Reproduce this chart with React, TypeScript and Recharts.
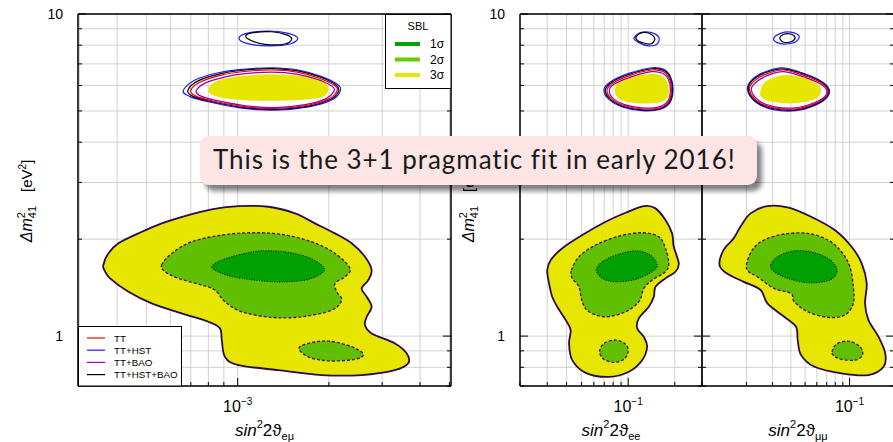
import React from 'react'
import { ScatterChart, Scatter, XAxis, YAxis, CartesianGrid } from 'recharts'

type Pt = [number, number]

// shared axis ticks
const yTicks = [0.7, 0.8, 0.9, 1, 2, 3, 4, 5, 6, 7, 8, 9, 10]
const yMajor = [1, 10]
const emuTicks = [3e-4, 4e-4, 5e-4, 6e-4, 7e-4, 8e-4, 9e-4, 1e-3, 2e-3, 3e-3, 4e-3, 5e-3]
const eeTicks = [0.02, 0.03, 0.04, 0.05, 0.06, 0.07, 0.08, 0.09, 0.1, 0.2, 0.3]
const mmTicks = [0.01, 0.02, 0.03, 0.04, 0.05, 0.06, 0.07, 0.08, 0.09, 0.1, 0.2]

// --- sin^2 2theta_emu panel ---
const emu3s: Pt[] = [[3.60e-4,1.662],[3.74e-4,1.806],[4.04e-4,1.941],[4.70e-4,2.084],[5.61e-4,2.239],[6.87e-4,2.376],[8.21e-4,2.475],[1.005e-3,2.533],[1.262e-3,2.521],[1.546e-3,2.405],[1.799e-3,2.239],[2.095e-3,2.084],[2.378e-3,1.941],[2.631e-3,1.764],[2.768e-3,1.603],[2.698e-3,1.492],[2.566e-3,1.406],[2.666e-3,1.325],[2.768e-3,1.233],[2.666e-3,1.148],[2.631e-3,1.082],[2.768e-3,1.019],[3.304e-3,0.949],[3.612e-3,0.884],[3.656e-3,0.823],[3.304e-3,0.784],[2.566e-3,0.757],[1.893e-3,0.757],[1.361e-3,0.784],[1.005e-3,0.813],[9.08e-4,0.862],[8.86e-4,0.972],[8.74e-4,1.057],[8.00e-4,1.108],[6.53e-4,1.176],[5.20e-4,1.263],[4.36e-4,1.373],[3.79e-4,1.511],[3.63e-4,1.603]]
const emu2s: Pt[] = [[5.61e-4,1.662],[6.06e-4,1.806],[7.05e-4,1.963],[8.86e-4,2.059],[1.112e-3,2.094],[1.397e-3,2.069],[1.755e-3,1.963],[2.095e-3,1.806],[2.347e-3,1.623],[2.260e-3,1.528],[2.095e-3,1.458],[2.122e-3,1.373],[2.204e-3,1.294],[2.043e-3,1.204],[1.626e-3,1.148],[1.295e-3,1.143],[1.031e-3,1.190],[9.08e-4,1.278],[8.41e-4,1.390],[7.61e-4,1.440],[6.37e-4,1.511],[5.76e-4,1.584]]
const emu1s: Pt[] = [[8.21e-4,1.641],[8.86e-4,1.722],[1.031e-3,1.797],[1.200e-3,1.840],[1.433e-3,1.827],[1.710e-3,1.756],[1.917e-3,1.641],[1.893e-3,1.565],[1.668e-3,1.492],[1.328e-3,1.474],[1.031e-3,1.511],[8.86e-4,1.565]]
const emu2sLow: Pt[] = [[1.593e-3,0.916],[1.710e-3,0.949],[1.991e-3,0.965],[2.378e-3,0.927],[2.597e-3,0.879],[2.439e-3,0.847],[1.991e-3,0.838],[1.710e-3,0.862]]
const emuUpFill: Pt[] = [[8.00e-4,5.81],[8.41e-4,6.16],[9.80e-4,6.39],[1.262e-3,6.50],[1.626e-3,6.42],[1.893e-3,6.24],[1.991e-3,5.88],[1.917e-3,5.54],[1.626e-3,5.41],[1.262e-3,5.38],[9.80e-4,5.43],[8.41e-4,5.56]]
const emuUpBlue: Pt[] = [[6.61e-4,5.78],[7.23e-4,6.24],[8.63e-4,6.57],[1.031e-3,6.73],[1.295e-3,6.81],[1.585e-3,6.70],[1.893e-3,6.39],[2.148e-3,6.02],[2.176e-3,5.74],[2.043e-3,5.41],[1.710e-3,5.15],[1.328e-3,5.03],[1.031e-3,5.10],[8.00e-4,5.34],[6.96e-4,5.54]]
const emuUpBlack: Pt[] = [[6.85e-4,5.80],[7.40e-4,6.20],[8.75e-4,6.52],[1.04e-3,6.69],[1.30e-3,6.77],[1.58e-3,6.66],[1.88e-3,6.36],[2.12e-3,6.00],[2.15e-3,5.74],[2.02e-3,5.43],[1.70e-3,5.17],[1.33e-3,5.06],[1.04e-3,5.13],[8.10e-4,5.36],[7.10e-4,5.56]]
const emuUpRed: Pt[] = [[7.0e-4,5.80],[7.55e-4,6.16],[8.9e-4,6.47],[1.05e-3,6.63],[1.30e-3,6.70],[1.57e-3,6.60],[1.86e-3,6.32],[2.10e-3,5.98],[2.12e-3,5.74],[2.00e-3,5.45],[1.69e-3,5.20],[1.33e-3,5.09],[1.05e-3,5.16],[8.2e-4,5.38],[7.25e-4,5.57]]
const emuUpPurple: Pt[] = [[7.3e-4,5.78],[7.8e-4,6.10],[9.1e-4,6.38],[1.06e-3,6.53],[1.30e-3,6.60],[1.56e-3,6.51],[1.84e-3,6.26],[2.06e-3,5.94],[2.07e-3,5.72],[1.96e-3,5.46],[1.67e-3,5.23],[1.33e-3,5.12],[1.06e-3,5.19],[8.4e-4,5.40],[7.5e-4,5.58]]
const emuTopBlue: Pt[] = [[1.010e-3,8.41],[1.071e-3,8.71],[1.262e-3,8.855],[1.469e-3,8.71],[1.578e-3,8.41],[1.488e-3,8.07],[1.262e-3,7.96],[1.071e-3,8.11]]
const emuTopBlack: Pt[] = [[1.063e-3,8.55],[1.126e-3,8.75],[1.295e-3,8.81],[1.451e-3,8.61],[1.507e-3,8.35],[1.433e-3,8.07],[1.230e-3,8.05],[1.112e-3,8.26]]

// --- sin^2 2theta_ee panel ---
const ee3s: Pt[] = [[0.0300,1.603],[0.0316,1.722],[0.0375,1.873],[0.0505,2.059],[0.0715,2.264],[0.0962,2.415],[0.1263,2.533],[0.1502,2.492],[0.1743,2.292],[0.1922,2.084],[0.1971,1.894],[0.2124,1.682],[0.2022,1.584],[0.1743,1.511],[0.1502,1.422],[0.1465,1.325],[0.1360,1.233],[0.1172,1.135],[0.1143,1.057],[0.1263,0.995],[0.1326,0.927],[0.1231,0.842],[0.1010,0.775],[0.0751,0.747],[0.0531,0.769],[0.0435,0.842],[0.0415,0.949],[0.0425,1.044],[0.0395,1.121],[0.0348,1.233],[0.0323,1.325],[0.0308,1.458]]
const ee2s: Pt[] = [[0.0431,1.603],[0.0481,1.764],[0.0616,1.917],[0.0871,2.044],[0.1231,2.094],[0.1578,2.034],[0.1743,1.873],[0.1830,1.682],[0.1743,1.584],[0.1428,1.492],[0.1263,1.406],[0.1172,1.278],[0.0962,1.190],[0.0715,1.148],[0.0558,1.190],[0.0505,1.278],[0.0481,1.422],[0.0435,1.511]]
const ee1s: Pt[] = [[0.0622,1.603],[0.0680,1.701],[0.0829,1.784],[0.1116,1.840],[0.1394,1.784],[0.1539,1.662],[0.1428,1.584],[0.1116,1.500],[0.0829,1.474],[0.0680,1.511]]
const ee2sLow: Pt[] = [[0.0654,0.894],[0.0697,0.949],[0.0829,0.972],[0.0962,0.944],[0.1000,0.894],[0.0938,0.847],[0.0809,0.829],[0.0697,0.847]]
const eeUpFill: Pt[] = [[0.0821,5.78],[0.0871,6.16],[0.1116,6.42],[0.1502,6.51],[0.1759,6.24],[0.1830,5.74],[0.1743,5.41],[0.1428,5.28],[0.1061,5.30],[0.0871,5.47]]
const eeUpBlue: Pt[] = [[0.0697,5.81],[0.0770,6.16],[0.1010,6.54],[0.1428,6.81],[0.1699,6.73],[0.1877,6.39],[0.1951,5.88],[0.1877,5.34],[0.1618,5.06],[0.1231,5.01],[0.0915,5.15],[0.0751,5.43]]
const eeUpBlack: Pt[] = [[0.0712,5.81],[0.0785,6.14],[0.1020,6.50],[0.1425,6.76],[0.1690,6.69],[0.1860,6.37],[0.1930,5.88],[0.1860,5.36],[0.1610,5.08],[0.1231,5.04],[0.0925,5.17],[0.0765,5.44]]
const eeUpRed: Pt[] = [[0.0730,5.81],[0.0800,6.11],[0.1030,6.45],[0.1420,6.70],[0.1680,6.63],[0.1840,6.33],[0.1905,5.87],[0.1840,5.38],[0.1600,5.11],[0.1231,5.07],[0.0935,5.20],[0.0780,5.45]]
const eeUpPurple: Pt[] = [[0.0755,5.80],[0.0820,6.07],[0.1045,6.38],[0.1410,6.62],[0.1665,6.55],[0.1815,6.28],[0.1875,5.85],[0.1815,5.40],[0.1585,5.15],[0.1231,5.11],[0.0950,5.23],[0.0800,5.47]]
const eeTopBlue: Pt[] = [[0.1088,8.41],[0.1202,8.75],[0.1394,8.77],[0.1578,8.47],[0.1539,8.07],[0.1360,7.96],[0.1172,8.15]]
const eeTopBlack: Pt[] = [[0.1126,8.50],[0.1231,8.75],[0.1394,8.67],[0.1487,8.35],[0.1394,8.07],[0.1231,8.15],[0.1143,8.30]]

// --- sin^2 2theta_mumu panel ---
const mm3s: Pt[] = [[0.01314,1.662],[0.01399,1.850],[0.01638,2.011],[0.01821,2.185],[0.02132,2.405],[0.02773,2.533],[0.03803,2.510],[0.05491,2.347],[0.07931,2.134],[0.1032,1.894],[0.1208,1.682],[0.1307,1.458],[0.1273,1.263],[0.1343,1.121],[0.1573,0.995],[0.1745,0.884],[0.1701,0.803],[0.1343,0.757],[0.08815,0.766],[0.05785,0.803],[0.04691,0.873],[0.04453,0.972],[0.04335,1.069],[0.03604,1.148],[0.02773,1.263],[0.02496,1.390],[0.01918,1.474],[0.01476,1.565]]
const mm2s: Pt[] = [[0.02001,1.662],[0.02190,1.850],[0.02630,1.987],[0.03604,2.074],[0.05214,2.084],[0.07147,1.987],[0.08815,1.827],[0.1005,1.641],[0.1060,1.422],[0.1060,1.263],[0.09286,1.162],[0.07147,1.143],[0.05214,1.190],[0.04220,1.278],[0.04006,1.357],[0.03078,1.406],[0.02369,1.528],[0.02075,1.584]]
const mm1s: Pt[] = [[0.02922,1.662],[0.03248,1.764],[0.04116,1.837],[0.05491,1.827],[0.07329,1.730],[0.08235,1.595],[0.07329,1.492],[0.05214,1.464],[0.03803,1.511],[0.03078,1.584]]
const mm2sLow: Pt[] = [[0.07613,0.894],[0.08146,0.944],[0.09797,0.965],[0.1176,0.927],[0.1222,0.873],[0.1087,0.842],[0.08815,0.847],[0.07855,0.867]]
const mmUpFill: Pt[] = [[0.02484,5.74],[0.02688,6.16],[0.03493,6.46],[0.04788,6.36],[0.06066,6.06],[0.06399,5.74],[0.05758,5.43],[0.04090,5.28],[0.02983,5.34],[0.02548,5.51]]
const mmUpBlue: Pt[] = [[0.02033,5.81],[0.02176,6.24],[0.02688,6.62],[0.03493,6.81],[0.04545,6.62],[0.06232,6.24],[0.07215,5.88],[0.07102,5.54],[0.05914,5.22],[0.04315,5.01],[0.02983,5.06],[0.02296,5.34]]
const mmUpBlack: Pt[] = [[0.02060,5.81],[0.02200,6.22],[0.02710,6.58],[0.03500,6.76],[0.04530,6.58],[0.06180,6.22],[0.07130,5.88],[0.07020,5.55],[0.05870,5.24],[0.04300,5.04],[0.03000,5.09],[0.02320,5.35]]
const mmUpRed: Pt[] = [[0.02100,5.81],[0.02240,6.18],[0.02740,6.52],[0.03510,6.70],[0.04510,6.53],[0.06120,6.19],[0.07040,5.87],[0.06940,5.56],[0.05820,5.27],[0.04290,5.07],[0.03020,5.12],[0.02360,5.37]]
const mmUpPurple: Pt[] = [[0.02160,5.80],[0.02300,6.12],[0.02790,6.45],[0.03530,6.62],[0.04490,6.46],[0.06040,6.14],[0.06930,5.85],[0.06830,5.56],[0.05750,5.30],[0.04270,5.11],[0.03050,5.16],[0.02420,5.39]]
const mmTopBlue: Pt[] = [[0.03063,8.41],[0.03405,8.71],[0.03988,8.79],[0.04545,8.55],[0.04315,8.20],[0.03685,8.07],[0.03228,8.15]]
const mmTopBlack: Pt[] = [[0.03368,8.41],[0.03588,8.65],[0.03988,8.67],[0.04267,8.47],[0.04090,8.23],[0.03588,8.17]]

const legendSBL = ['1σ', '2σ', '3σ']
const legendCosmo = ['TT', 'TT+HST', 'TT+BAO', 'TT+HST+BAO']

const FONT = "'Liberation Sans', Arial, Helvetica, sans-serif"
const YEL = '#e6e600'
const GRN2 = '#60c000'
const GRN1 = '#00a000'
const BLUE = '#1a1aff'
const RED = '#ee0000'
const PURPLE = '#9900aa'
const sblColors = [GRN1, '#66cc00', YEL]
const cosmoColors = [RED, BLUE, PURPLE, '#000']

type Shape = { pts: Pt[]; fill?: string; stroke?: string; width?: number; dash?: string }

function buildShapes(s3: Pt[], s2: Pt[], s1: Pt[], low: Pt[], upFill: Pt[], blue: Pt[], black: Pt[], red: Pt[], purple: Pt[], topBlue: Pt[], topBlack: Pt[]): Shape[] {
  return [
    { pts: s3, fill: YEL, stroke: '#2a0a50', width: 1.8 },
    { pts: s2, fill: GRN2, stroke: '#4a1a6a', width: 1.4, dash: '3 2' },
    { pts: s1, fill: GRN1, stroke: '#1a1a40', width: 1.1, dash: '1 1.5' },
    { pts: low, fill: GRN2, stroke: '#4a1a6a', width: 1.4, dash: '3 2' },
    { pts: upFill, fill: YEL },
    { pts: blue, stroke: BLUE, width: 1.2 },
    { pts: black, stroke: '#000', width: 1.2 },
    { pts: red, stroke: RED, width: 1.2 },
    { pts: purple, stroke: PURPLE, width: 1.2 },
    { pts: topBlue, stroke: BLUE, width: 1.2 },
    { pts: topBlack, stroke: '#000', width: 1.2 },
  ]
}

// closed Catmull-Rom curve so contours pass through the read points
function smoothClosed(context: any) {
  const pts: number[][] = []
  return {
    areaStart() {},
    areaEnd() {},
    lineStart() { pts.length = 0 },
    point(x: number, y: number) { pts.push([x, y]) },
    lineEnd() {
      const n = pts.length
      if (!n) return
      context.moveTo(pts[0][0], pts[0][1])
      for (let i = 0; i < n; i++) {
        const p0 = pts[(i - 1 + n) % n], p1 = pts[i], p2 = pts[(i + 1) % n], p3 = pts[(i + 2) % n]
        context.bezierCurveTo(
          p1[0] + (p2[0] - p0[0]) / 6, p1[1] + (p2[1] - p0[1]) / 6,
          p2[0] - (p3[0] - p1[0]) / 6, p2[1] - (p3[1] - p1[1]) / 6,
          p2[0], p2[1],
        )
      }
      context.closePath()
    },
  }
}

const noDot = () => <g />

function makeBottomTick(major: number, exp: string) {
  return (p: any) => {
    const isMajor = p.payload.value === major
    return (
      <g>
        <line x1={p.x} y1={p.y} x2={p.x} y2={p.y - (isMajor ? 8 : 4)} stroke="#000" strokeWidth={1} />
        {isMajor && (
          <text x={p.x} y={p.y + 26} textAnchor="middle" fontSize={16} fontFamily={FONT} fill="#000">
            10<tspan dy={-7} fontSize={10}>{exp}</tspan>
          </text>
        )}
      </g>
    )
  }
}

function makeTopTick(major: number) {
  return (p: any) => {
    const isMajor = p.payload.value === major
    return <line x1={p.x} y1={p.y} x2={p.x} y2={p.y + (isMajor ? 8 : 4)} stroke="#000" strokeWidth={1} />
  }
}

function makeLeftTick(showLabels: boolean) {
  return (p: any) => {
    const v = p.payload.value
    const isMajor = yMajor.includes(v)
    return (
      <g>
        <line x1={p.x} y1={p.y} x2={p.x + (isMajor ? 8 : 4)} y2={p.y} stroke="#000" strokeWidth={1} />
        {showLabels && isMajor && (
          <text x={p.x - 15} y={p.y + 5} textAnchor="end" fontSize={14} fontFamily={FONT} fill="#000">{String(v)}</text>
        )}
      </g>
    )
  }
}

const rightTick = (p: any) => {
  const isMajor = yMajor.includes(p.payload.value)
  return <line x1={p.x} y1={p.y} x2={p.x - (isMajor ? 8 : 4)} y2={p.y} stroke="#000" strokeWidth={1} />
}

type PanelProps = {
  left: number
  leftW: number
  plotW: number
  domain: [number, number]
  ticks: number[]
  major: number
  exp: string
  yLabels: boolean
  shapes: Shape[]
}

const axisLine = { stroke: '#000', strokeWidth: 1.5 }

function Panel({ left, leftW, plotW, domain, ticks, major, exp, yLabels, shapes }: PanelProps) {
  return (
    <div style={{ position: 'absolute', left, top: 0 }}>
      <ScatterChart width={leftW + plotW + 4} height={442} margin={{ top: 0, right: 0, bottom: 0, left: 0 }}>
        <CartesianGrid stroke="#d2d2d2" strokeWidth={1} />
        <XAxis dataKey="x" type="number" scale="log" domain={domain} allowDataOverflow ticks={ticks} interval={0}
          tick={makeBottomTick(major, exp)} tickLine={false} tickSize={0} tickMargin={0} axisLine={axisLine} height={56} />
        <XAxis xAxisId="t" orientation="top" type="number" scale="log" domain={domain} allowDataOverflow ticks={ticks} interval={0}
          tick={makeTopTick(major)} tickLine={false} tickSize={0} tickMargin={0} axisLine={axisLine} height={14} />
        <YAxis dataKey="y" type="number" scale="log" domain={[0.7, 10]} allowDataOverflow ticks={yTicks} interval={0}
          tick={makeLeftTick(yLabels)} tickLine={false} tickSize={0} tickMargin={0} axisLine={axisLine} width={leftW} />
        <YAxis yAxisId="r" orientation="right" type="number" scale="log" domain={[0.7, 10]} allowDataOverflow ticks={yTicks} interval={0}
          tick={rightTick} tickLine={false} tickSize={0} tickMargin={0} axisLine={axisLine} width={4} />
        {shapes.map((s, i) => (
          <Scatter
            key={i}
            data={s.pts.map(([x, y]) => ({ x, y }))}
            shape={noDot}
            isAnimationActive={false}
            lineType="joint"
            lineJointType={smoothClosed as any}
            line={{ fill: s.fill ?? 'none', stroke: s.stroke ?? 'none', strokeWidth: s.width ?? 1, strokeDasharray: s.dash }}
          />
        ))}
      </ScatterChart>
    </div>
  )
}

function XTitle({ cx, sub }: { cx: number; sub: string }) {
  return (
    <text x={cx} y={436} textAnchor="middle" fontSize={17} fontFamily={FONT} fill="#000">
      <tspan fontStyle="italic">sin</tspan>
      <tspan fontSize={11} dy={-8}>2</tspan>
      <tspan dy={8}>2ϑ</tspan>
      <tspan fontSize={11} dy={4}>{sub}</tspan>
    </text>
  )
}

function YTitle({ x }: { x: number }) {
  return (
    <text transform={`translate(${x},201) rotate(-90)`} textAnchor="middle" fontSize={16} fontFamily={FONT} fill="#000">
      <tspan fontStyle="italic">Δm</tspan>
      <tspan fontSize={11} dy={-7}>2</tspan>
      <tspan fontSize={11} dx={-6} dy={11}>41</tspan>
      <tspan fontSize={15} dx={14} dy={-4}>[eV</tspan>
      <tspan fontSize={10} dy={-6}>2</tspan>
      <tspan fontSize={15} dy={6}>]</tspan>
    </text>
  )
}

export default function App() {
  return (
    <div style={{ position: 'absolute', left: 0, top: 0, width: 893, height: 442, overflow: 'hidden', background: '#fff' }}>
      <Panel left={0} leftW={78} plotW={373} domain={[2.97e-4, 5.06e-3]} ticks={emuTicks} major={1e-3} exp="−3" yLabels
        shapes={buildShapes(emu3s, emu2s, emu1s, emu2sLow, emuUpFill, emuUpBlue, emuUpBlack, emuUpRed, emuUpPurple, emuTopBlue, emuTopBlack)} />
      <Panel left={440} leftW={80} plotW={182} domain={[0.02, 0.3]} ticks={eeTicks} major={0.1} exp="−1" yLabels
        shapes={buildShapes(ee3s, ee2s, ee1s, ee2sLow, eeUpFill, eeUpBlue, eeUpBlack, eeUpRed, eeUpPurple, eeTopBlue, eeTopBlack)} />
      <Panel left={692} leftW={10} plotW={192} domain={[0.01, 0.2]} ticks={mmTicks} major={0.1} exp="−1" yLabels={false}
        shapes={buildShapes(mm3s, mm2s, mm1s, mm2sLow, mmUpFill, mmUpBlue, mmUpBlack, mmUpRed, mmUpPurple, mmTopBlue, mmTopBlack)} />

      <svg width={893} height={442} style={{ position: 'absolute', left: 0, top: 0, pointerEvents: 'none' }}>
        <YTitle x={32} />
        <YTitle x={474} />
        <XTitle cx={264.5} sub="eμ" />
        <XTitle cx={611} sub="ee" />
        <XTitle cx={798} sub="μμ" />

        <rect x={385.5} y={14.5} width={65.5} height={74} fill="#fff" stroke="#000" strokeWidth={1} />
        <text x={418} y={30} textAnchor="middle" fontSize={11} fontFamily={FONT}>SBL</text>
        {legendSBL.map((t, i) => (
          <g key={t}>
            <line x1={395} x2={420} y1={44 + i * 15.5} y2={44 + i * 15.5} stroke={sblColors[i]} strokeWidth={4} />
            <text x={430} y={48 + i * 15.5} fontSize={12} fontFamily={FONT}>{t}</text>
          </g>
        ))}

        <rect x={78.5} y={326.5} width={103} height={59.5} fill="#fff" stroke="#000" strokeWidth={1} />
        {legendCosmo.map((t, i) => (
          <g key={t}>
            <line x1={87} x2={105} y1={338 + i * 12.2} y2={338 + i * 12.2} stroke={cosmoColors[i]} strokeWidth={1.2} />
            <text x={114} y={341.8 + i * 12.2} fontSize={9.8} fontFamily={FONT}>{t}</text>
          </g>
        ))}
      </svg>

      <div style={{
        position: 'absolute', left: 200, top: 136, width: 557, height: 49, boxSizing: 'border-box',
        background: '#fde5e5', borderRadius: 9, boxShadow: '5px 6px 5px rgba(0,0,0,0.5)',
        paddingLeft: 13, paddingTop: 8, fontFamily: 'Lato, sans-serif', fontSize: 26, lineHeight: '31px', color: '#1a1a1a',
        whiteSpace: 'nowrap', letterSpacing: '0.95px',
      }}>
        This is the 3+1 pragmatic fit in early 2016!
      </div>
    </div>
  )
}
